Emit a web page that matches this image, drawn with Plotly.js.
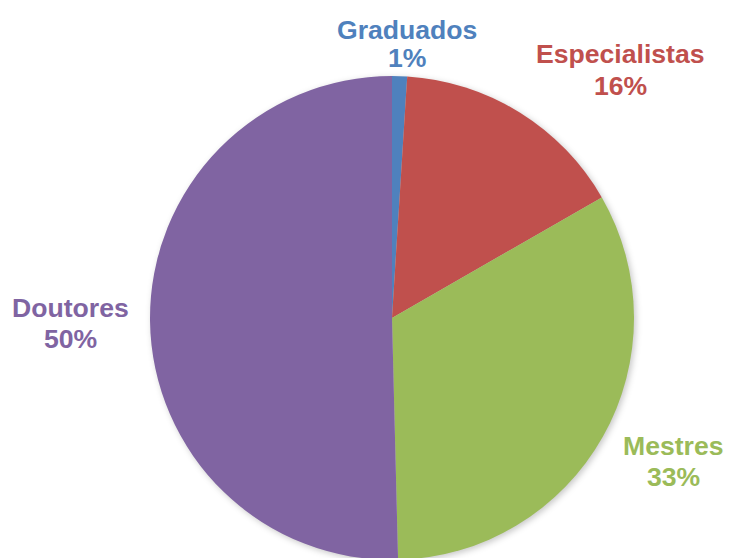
<!DOCTYPE html>
<html>
<head>
<meta charset="utf-8">
<script src="https://cdn.plot.ly/plotly-3.0.1.min.js"></script>
<style>
html, body { margin: 0; padding: 0; background: #ffffff; overflow: hidden; }
#chart { width: 730px; height: 564px; }
#chart .pielayer { filter: drop-shadow(2px 2px 3px rgba(0,0,0,0.22)); }
</style>
</head>
<body>
<div id="chart"></div>
<script>
// Data (clockwise from 12 o'clock)
const categories = ["Graduados", "Especialistas", "Mestres", "Doutores"];
const values = [1.0, 15.7, 32.9, 50.4];
const colors = ["#4F81BD", "#C0504D", "#9BBB59", "#8064A2"];

// Label placement (pixel centres of the name line and of the percent line)
const labelX = [407, 620, 673, 70];
const nameY = [30, 54, 446, 308];
const pctY = [58, 86, 477, 339];

const W = 730, H = 564;
const total = values.reduce((a, b) => a + b, 0);

const annotations = [];
categories.forEach((c, i) => {
  const pct = Math.round(values[i] / total * 100) + "%";
  const base = {
    xref: "paper", yref: "paper", x: labelX[i] / W,
    xanchor: "center", yanchor: "middle", showarrow: false,
    font: { family: "Liberation Sans, Arial, sans-serif", size: 26.6, color: colors[i], weight: "bold" }
  };
  annotations.push(Object.assign({}, base, { y: (H - nameY[i]) / H, text: c }));
  annotations.push(Object.assign({}, base, { y: (H - pctY[i]) / H, text: pct }));
});

const trace = {
  type: "pie",
  labels: categories,
  values: values,
  sort: false,
  direction: "clockwise",
  rotation: 0,
  marker: { colors: colors, line: { width: 0 } },
  textinfo: "none",
  hoverinfo: "label+percent",
  domain: { x: [150 / W, 634 / W], y: [(H - 318 - 242) / H, (H - 318 + 242) / H] }
};

const layout = {
  width: W, height: H,
  margin: { l: 0, r: 0, t: 0, b: 0 },
  paper_bgcolor: "#ffffff",
  showlegend: false,
  annotations: annotations
};

Plotly.newPlot("chart", [trace], layout, { displayModeBar: false, staticPlot: true });
</script>
</body>
</html>
